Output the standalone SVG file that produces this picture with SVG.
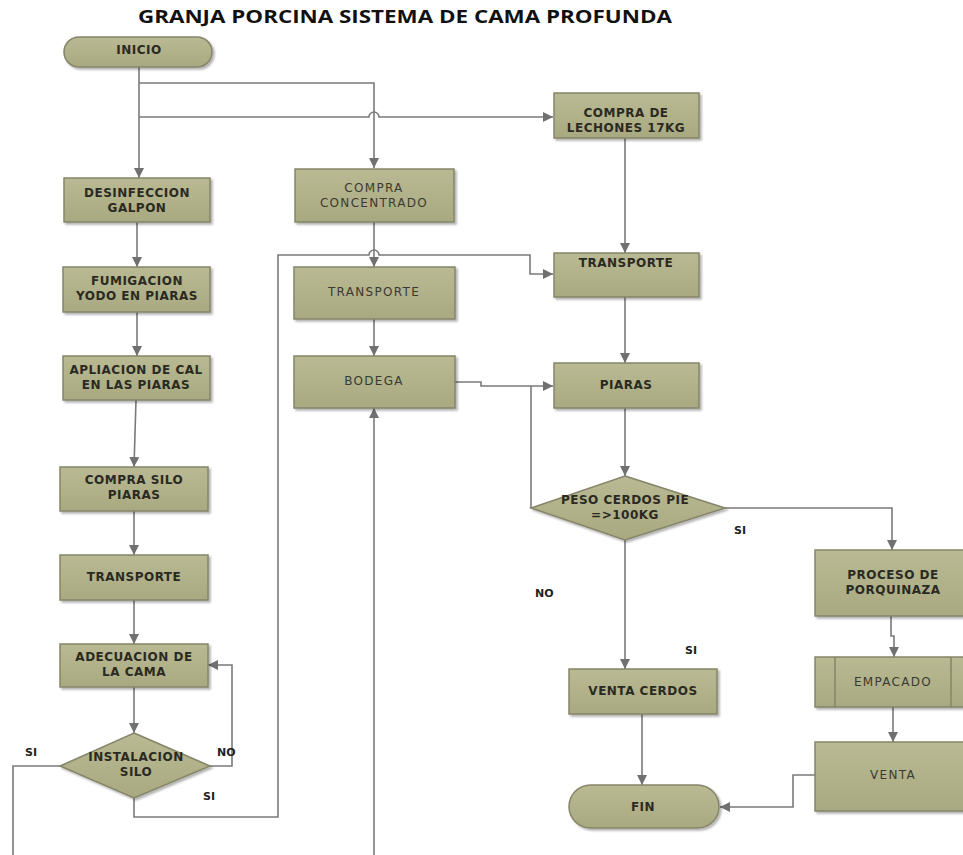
<svg xmlns="http://www.w3.org/2000/svg" width="963" height="855" viewBox="0 0 963 855">
<defs>
<marker id="arr" viewBox="0 0 10 10" refX="10" refY="5" markerWidth="10" markerHeight="10" markerUnits="userSpaceOnUse" orient="auto">
<path d="M0,0 L10,5 L0,10 Z" fill="#707070"/>
</marker>
<filter id="sh" x="-10%" y="-10%" width="130%" height="140%">
<feDropShadow dx="2" dy="2" stdDeviation="1.2" flood-color="#000" flood-opacity="0.3"/>
</filter>
<linearGradient id="g" x1="0" y1="0" x2="0" y2="1">
<stop offset="0" stop-color="#b9b993"/>
<stop offset="1" stop-color="#a9a981"/>
</linearGradient>
</defs>
<style>
.box{fill:url(#g);stroke:#85856a;stroke-width:1.5;filter:url(#sh)}
.t{font-family:"DejaVu Sans","Liberation Sans",sans-serif;font-size:12px;font-weight:bold;letter-spacing:0.5px;fill:#2a2a22;text-anchor:middle}
.r{font-weight:normal;letter-spacing:1.3px;fill:#3a3a32}
.lbl{font-family:"DejaVu Sans","Liberation Sans",sans-serif;font-size:11px;font-weight:bold;fill:#222}
.c{fill:none;stroke:#7a7a7a;stroke-width:1.6}
.ca{fill:none;stroke:#7a7a7a;stroke-width:1.6;marker-end:url(#arr)}
.title{font-family:"Open Sans","Liberation Sans",sans-serif;font-size:18px;font-weight:bold;fill:#111}
</style>
<rect width="963" height="855" fill="#ffffff"/>
<text class="title" x="138" y="23" textLength="534" lengthAdjust="spacingAndGlyphs">GRANJA PORCINA SISTEMA DE CAMA PROFUNDA</text>

<g id="connectors">
<path class="ca" d="M139,66 V178"/>
<path class="ca" d="M139,83 H374 V168"/>
<path class="ca" d="M139,117 H369 A5,5 0 0 1 379,117 H553"/>
<path class="ca" d="M137,222 V267"/>
<path class="ca" d="M137,312 V356"/>
<path class="ca" d="M136,400 L134,467"/>
<path class="ca" d="M134,511 V555"/>
<path class="ca" d="M134,600 V644"/>
<path class="ca" d="M134,687 V733"/>
<path class="ca" d="M210,766 H232 V665 H208"/>
<path class="c" d="M60,766 H13 V855"/>
<path class="ca" d="M134,798 V817 H278 V255 H369 A5,5 0 0 1 379,255 H530 V274 H553"/>
<path class="ca" d="M374,222 V267"/>
<path class="ca" d="M374,319 V356"/>
<path class="ca" d="M374,855 V408"/>
<path class="ca" d="M455,382 H481 V386 H553"/>
<path class="c" d="M531,508 V386"/>
<path class="ca" d="M625,138 V253"/>
<path class="ca" d="M625,297 V363"/>
<path class="ca" d="M625,408 V476"/>
<path class="ca" d="M625,540 V669"/>
<path class="ca" d="M725,508 H892 V550"/>
<path class="ca" d="M891,616 V636 H894 V657"/>
<path class="ca" d="M893,707 V742"/>
<path class="ca" d="M815,775 H793 V807 H720"/>
<path class="ca" d="M642,714 V785"/>
</g>

<g id="inicio"><rect class="box" x="64" y="37" width="148" height="30" rx="15"/><text class="t" x="139" y="54">INICIO</text></g>

<g id="desinfeccion"><rect class="box" x="64" y="178" width="146" height="44"/><text class="t" x="137" y="197">DESINFECCION</text><text class="t" x="137" y="212">GALPON</text></g>
<g id="fumigacion"><rect class="box" x="63" y="267" width="147" height="45"/><text class="t" x="137" y="285">FUMIGACION</text><text class="t" x="137" y="300">YODO EN PIARAS</text></g>
<g id="cal"><rect class="box" x="63" y="356" width="147" height="44"/><text class="t" x="136" y="374">APLIACION DE CAL</text><text class="t" x="136" y="389">EN LAS PIARAS</text></g>
<g id="silo"><rect class="box" x="60" y="467" width="148" height="44"/><text class="t" x="134" y="484">COMPRA SILO</text><text class="t" x="134" y="499">PIARAS</text></g>
<g id="transporte1"><rect class="box" x="60" y="555" width="148" height="45"/><text class="t" x="134" y="581">TRANSPORTE</text></g>
<g id="adecuacion"><rect class="box" x="60" y="644" width="148" height="43"/><text class="t" x="134" y="661">ADECUACION DE</text><text class="t" x="134" y="676">LA CAMA</text></g>
<g id="instalacion"><polygon class="box" points="134,733 210,766 134,798 60,766"/><text class="t" x="136" y="761">INSTALACION</text><text class="t" x="136" y="776">SILO</text></g>

<g id="concentrado"><rect class="box" x="295" y="169" width="159" height="53"/><text class="t r" x="374" y="192">COMPRA</text><text class="t r" x="374" y="207">CONCENTRADO</text></g>
<g id="transporte2"><rect class="box" x="294" y="267" width="161" height="52"/><text class="t r" x="374" y="296">TRANSPORTE</text></g>
<g id="bodega"><rect class="box" x="294" y="356" width="161" height="52"/><text class="t r" x="374" y="385">BODEGA</text></g>

<g id="lechones"><rect class="box" x="554" y="93" width="145" height="45"/><text class="t" x="626" y="117">COMPRA DE</text><text class="t" x="626" y="132">LECHONES 17KG</text></g>
<g id="transporte3"><rect class="box" x="554" y="253" width="145" height="44"/><text class="t" x="626" y="267">TRANSPORTE</text></g>
<g id="piaras"><rect class="box" x="554" y="363" width="145" height="45"/><text class="t" x="626" y="389">PIARAS</text></g>
<g id="peso"><polygon class="box" points="625,476 725,508 625,540 531,508"/><text class="t" x="625" y="504">PESO CERDOS PIE</text><text class="t" x="625" y="519">=&gt;100KG</text></g>

<g id="porquinaza"><rect class="box" x="815" y="550" width="155" height="66"/><text class="t" x="893" y="579">PROCESO DE</text><text class="t" x="893" y="594">PORQUINAZA</text></g>
<g id="empacado"><rect class="box" x="815" y="657" width="155" height="50"/><line x1="835" y1="657" x2="835" y2="707" stroke="#85856a" stroke-width="1.5"/><line x1="951" y1="657" x2="951" y2="707" stroke="#85856a" stroke-width="1.5"/><text class="t r" x="893" y="686">EMPACADO</text></g>
<g id="venta"><rect class="box" x="815" y="742" width="155" height="69"/><text class="t r" x="893" y="779">VENTA</text></g>
<g id="ventacerdos"><rect class="box" x="569" y="669" width="148" height="45"/><text class="t" x="643" y="695">VENTA CERDOS</text></g>
<g id="fin"><rect class="box" x="569" y="785" width="150" height="43" rx="21.5"/><text class="t" x="643" y="811">FIN</text></g>

<g id="labels">
<text class="lbl" x="25" y="756">SI</text>
<text class="lbl" x="217" y="756">NO</text>
<text class="lbl" x="203" y="800">SI</text>
<text class="lbl" x="734" y="534">SI</text>
<text class="lbl" x="535" y="597">NO</text>
<text class="lbl" x="685" y="654">SI</text>
</g>
</svg>
